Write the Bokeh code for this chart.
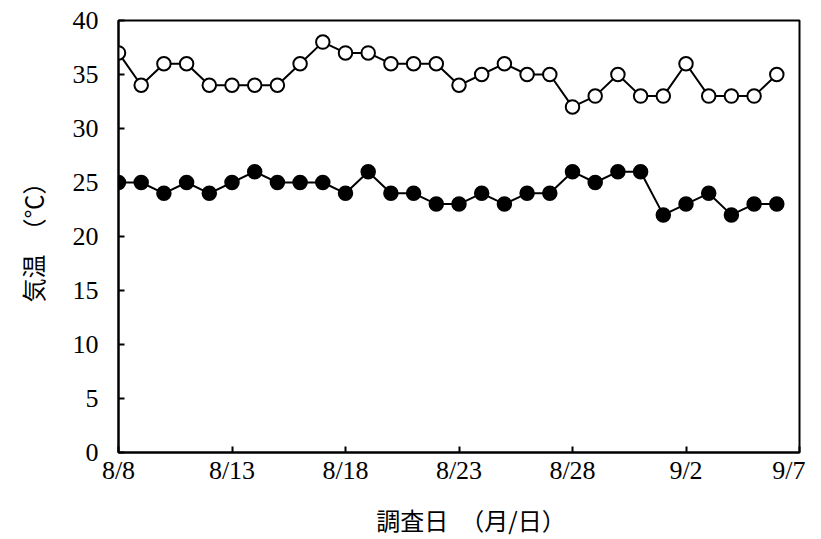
from bokeh.plotting import figure
from bokeh.models import FixedTicker, Range1d
from bokeh.embed import file_html
from bokeh.resources import INLINE

dates = ["8/8", "8/9", "8/10", "8/11", "8/12", "8/13", "8/14", "8/15", "8/16", "8/17",
         "8/18", "8/19", "8/20", "8/21", "8/22", "8/23", "8/24", "8/25", "8/26", "8/27",
         "8/28", "8/29", "8/30", "8/31", "9/1", "9/2", "9/3", "9/4", "9/5", "9/6"]
max_temp = [37, 34, 36, 36, 34, 34, 34, 34, 36, 38,
            37, 37, 36, 36, 36, 34, 35, 36, 35, 35,
            32, 33, 35, 33, 33, 36, 33, 33, 33, 35]
min_temp = [25, 25, 24, 25, 24, 25, 26, 25, 25, 25,
            24, 26, 24, 24, 23, 23, 24, 23, 24, 24,
            26, 25, 26, 26, 22, 23, 24, 22, 23, 23]
x_ticks = [0, 5, 10, 15, 20, 25, 30]
x_tick_labels = ["8/8", "8/13", "8/18", "8/23", "8/28", "9/2", "9/7"]
y_ticks = [0, 5, 10, 15, 20, 25, 30, 35, 40]

xs = list(range(len(dates)))

p = figure(width=805, height=539, output_backend="svg", toolbar_location=None,
           x_range=Range1d(0, 30), y_range=Range1d(0, 40),
           min_border_left=118, min_border_top=20, min_border_right=6, min_border_bottom=87)
p.xgrid.visible = False
p.ygrid.visible = False
p.outline_line_color = "black"
p.outline_line_width = 2
p.outline_line_alpha = 1

for ax in (p.xaxis[0], p.yaxis[0]):
    ax.axis_line_width = 2
    ax.axis_line_color = "black"
    ax.major_tick_in = 6
    ax.major_tick_out = 0
    ax.major_tick_line_width = 2
    ax.minor_tick_line_color = None
    ax.major_label_text_font = "Liberation Serif"
    ax.major_label_text_font_size = "26px"
    ax.major_label_text_color = "black"
    ax.axis_label_text_font = "Noto Sans CJK JP"
    ax.axis_label_text_font_size = "24px"
    ax.axis_label_text_font_style = "normal"
    ax.axis_label_text_color = "black"

p.xaxis.ticker = FixedTicker(ticks=x_ticks)
p.xaxis.major_label_overrides = {t: l for t, l in zip(x_ticks, x_tick_labels)}
p.xaxis.major_label_standoff = 3
p.xaxis.axis_label = "　調査日　（月/日）"
p.xaxis.axis_label_standoff = 14

p.yaxis.ticker = FixedTicker(ticks=y_ticks)
p.yaxis.major_label_standoff = 20
p.yaxis.axis_label = "気温　（℃）"
p.yaxis.axis_label_standoff = 20

p.line(xs, max_temp, line_color="black", line_width=2)
p.line(xs, min_temp, line_color="black", line_width=2)
p.scatter(xs, max_temp, size=13.5, fill_color="white", line_color="black", line_width=2)
p.scatter(xs, min_temp, size=13.5, fill_color="black", line_color="black", line_width=2)

open("out.html", "w").write(file_html(p, INLINE))
